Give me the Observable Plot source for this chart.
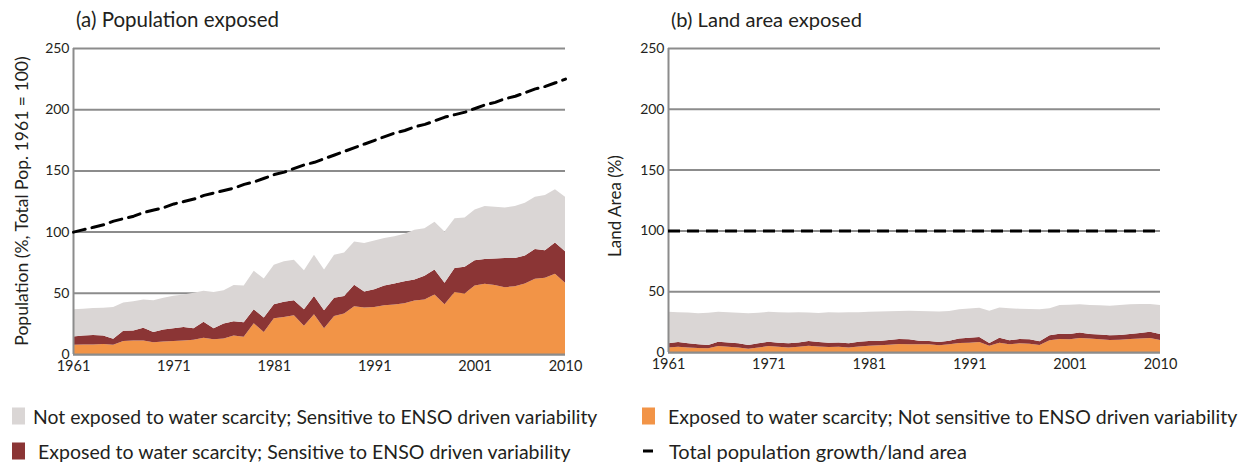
<!DOCTYPE html>
<html><head><meta charset="utf-8">
<script src="https://cdn.jsdelivr.net/npm/d3@7"></script>
<script src="https://cdn.jsdelivr.net/npm/@observablehq/plot@0.6"></script>
<style>
body{margin:0;background:#fff;font-family:Lato,sans-serif;}
#wrap{position:relative;width:1248px;height:465px;overflow:hidden;background:#fff;}
#wrap svg{position:absolute;}
</style></head><body><div id="wrap"></div>
<script>
// ---- data ----
const years = d3.range(1961, 2011);
const xTicks = [1961, 1971, 1981, 1991, 2001, 2010];
const yTicks = [0, 50, 100, 150, 200, 250];

// Panel (a): population exposed (% of total pop. 1961), band thickness per category
const popOrange = [7.6,7.7,7.8,8.1,7.6,10.6,11.0,11.1,9.5,10.2,10.6,11.0,11.6,13.3,12.0,12.7,15.2,14.0,25.2,18.0,
  29.2,30.3,31.7,23.0,32.5,21.0,31.0,33.0,39.0,37.9,38.4,39.8,40.4,41.4,43.8,44.6,48.7,40.6,50.6,49.5,
  56.0,57.4,56.3,54.6,55.4,57.6,61.4,62.2,65.5,58.2];
const popRed = [6.7,7.5,7.7,7.1,4.9,8.4,8.3,10.3,8.5,9.8,10.4,11.0,9.4,13.1,9.0,12.3,11.6,12.0,11.3,11.8,
  11.4,12.4,12.3,13.5,14.8,14.7,15.0,14.3,17.5,13.1,14.6,16.2,17.1,18.1,17.1,19.4,20.3,17.6,19.7,21.7,
  20.5,20.3,21.7,23.9,23.1,22.8,24.4,22.5,25.5,25.7];
const popGray = [22.2,21.8,22.0,22.5,26.0,23.0,23.7,23.1,26.0,26.0,26.5,26.7,29.0,25.3,29.6,27.0,29.5,30.0,31.5,31.9,
  32.4,33.0,33.0,31.9,33.7,33.3,35.0,35.7,35.5,39.6,39.8,38.7,38.8,38.7,40.6,38.8,39.0,41.8,40.7,40.3,
  41.5,43.3,42.4,41.1,42.5,43.2,42.7,45.3,43.5,44.6];
const popTotal = [100,102,104,106,109,111,113,116,118,120,123,125,127,130,132,134,136,139,141,144,
  147,149,152,155,157,160,163,166,169,172,175,178,181,183,186,188,191,194,196,198,
  201,204,206,209,211,214,217,219,222,225];

// Panel (b): land area exposed (%)
const landOrange = [3.8,4.4,3.8,3.3,3.0,4.9,4.4,3.8,2.7,3.8,4.9,4.4,3.8,4.4,5.2,4.6,4.1,4.4,3.6,4.6,
  5.2,5.5,6.0,6.6,6.3,6.3,6.3,5.5,6.3,7.4,7.7,8.2,5.2,7.7,6.3,7.1,6.8,5.8,9.6,10.7,
  10.4,11.5,11.0,10.4,9.9,10.1,10.7,11.0,11.5,9.9];
const landRed = [3.3,3.8,3.3,3.0,2.8,3.6,3.5,3.3,3.1,3.3,3.6,3.3,3.3,3.5,3.8,3.6,3.6,3.5,3.5,3.9,
  3.8,3.5,3.9,4.1,4.1,3.0,2.7,2.7,3.0,3.6,4.1,4.1,2.2,4.1,3.3,3.6,3.6,3.0,4.1,4.4,
  4.4,4.6,3.8,3.9,3.8,3.9,4.1,4.6,5.2,4.9];
const landGray = [25.9,24.5,25.3,25.5,26.5,24.5,24.8,25.2,26.0,25.2,24.5,25.0,25.3,24.8,23.4,23.9,25.0,24.5,25.6,24.2,
  24.0,24.3,23.6,23.1,23.6,24.5,24.5,25.1,24.5,24.1,23.9,24.1,26.6,24.8,26.3,24.9,25.0,26.3,22.2,23.5,
  24.1,23.1,23.8,24.1,24.4,24.6,24.4,23.9,22.8,23.8];
const landTotal = 100;

// stacking order bottom -> top
const seriesKeys = ["exposedNotSensitive", "exposedSensitive", "notExposedSensitive"];
const legendItems = [
  {key: "notExposedSensitive", label: "Not exposed to water scarcity; Sensitive to ENSO driven variability"},
  {key: "exposedNotSensitive", label: "Exposed to water scarcity; Not sensitive to ENSO driven variability"},
  {key: "exposedSensitive", label: "Exposed to water scarcity; Sensitive to ENSO driven variability"},
  {key: "total", label: "Total population growth/land area"}
];

// ---- style ----
const colors = {exposedNotSensitive: "#f29447", exposedSensitive: "#8b3535", notExposedSensitive: "#dad6d5"};
const gridColor = "#8c8c8c";
const textColor = "#231f20";
const FONT = "Lato";

function panel(orange, red, gray, totalMark, o) {
  const data = [];
  [[seriesKeys[0], orange], [seriesKeys[1], red], [seriesKeys[2], gray]].forEach(([s, arr]) =>
    arr.forEach((v, i) => data.push({year: years[i], value: v, series: s})));
  return Plot.plot({
    width: o.width, height: o.height,
    marginLeft: o.ml, marginRight: o.mr, marginTop: o.mt, marginBottom: o.mb,
    x: {domain: [1961, 2010]},
    y: {domain: [0, 250]},
    color: {type: "ordinal", domain: seriesKeys, range: seriesKeys.map(k => colors[k])},
    style: {fontFamily: FONT, color: textColor, background: "transparent", overflow: "visible"},
    marks: [
      Plot.gridY(yTicks, {stroke: gridColor, strokeOpacity: 1, strokeWidth: 2}),
      Plot.areaY(data, {x: "year", y: "value", fill: "series", order: null}),
      Plot.ruleY([0], {stroke: gridColor, strokeWidth: 2}),
      Plot.ruleX([1961], {stroke: gridColor, strokeWidth: 2}),
      totalMark,
      Plot.axisY(yTicks, {tickSize: 0, tickPadding: 4, fontSize: 14, label: null}),
      Plot.axisX(xTicks, {tickSize: 0, tickPadding: 6, fontSize: 14.5, label: null, tickFormat: d => String(d)})
    ]
  });
}

const wrap = document.getElementById("wrap");

const popLine = Plot.line(years.map((y, i) => ({year: y, v: popTotal[i]})),
  {x: "year", y: "v", stroke: "#000", strokeWidth: 3, strokeDasharray: "12,7"});
const a = panel(popOrange, popRed, popGray, popLine, {width: 600, height: 385, ml: 73, mr: 35, mt: 48, mb: 31});
a.style.left = "0px"; a.style.top = "0px";
wrap.appendChild(a);

const landLine = Plot.ruleY([landTotal], {stroke: "#000", strokeWidth: 3, strokeDasharray: "12,7"});
const b = panel(landOrange, landRed, landGray, landLine, {width: 600, height: 385, ml: 68, mr: 40, mt: 48, mb: 33});
b.style.left = "600px"; b.style.top = "0px";
wrap.appendChild(b);

// ---- overlay texts: titles, axis labels, legend ----
const ctx = document.createElement("canvas").getContext("2d");
function fitSize(txt, target) {
  ctx.font = `100px ${FONT}`;
  return 100 * target / ctx.measureText(txt).width;
}
const ov = d3.select(wrap).append("svg").attr("width", 1248).attr("height", 465)
  .style("left", "0px").style("top", "0px").style("font-family", FONT);

function label(txt, x, y, width, rotate, size) {
  const t = ov.append("text").text(txt).attr("fill", textColor)
    .attr("font-size", size || fitSize(txt, width)).attr("dominant-baseline", "central");
  if (rotate) {
    t.attr("text-anchor", "middle").attr("transform", `translate(${x},${y}) rotate(-90)`);
  } else {
    t.attr("x", x).attr("y", y);
  }
}
label("(a) Population exposed", 76, 19, 203);
label("(b) Land area exposed", 671, 19, 191);
label("Population (%, Total Pop. 1961 = 100)", 21, 201, 290, true);
label("Land Area (%)", 614, 206, 88, true, 17);

const legendPos = [
  {x: 12, tx: 33, y: 416, w: 566},
  {x: 642, tx: 668, y: 416, w: 571},
  {x: 12, tx: 38, y: 451, w: 534},
  {x: 642, tx: 669, y: 451, w: 298}
];
legendItems.forEach((it, i) => {
  const p = legendPos[i];
  if (it.key === "total") {
    ov.append("line").attr("x1", p.x + 1).attr("x2", p.x + 11).attr("y1", p.y).attr("y2", p.y)
      .attr("stroke", "#000").attr("stroke-width", 3);
  } else {
    ov.append("rect").attr("x", p.x).attr("y", p.y - 8.5).attr("width", 13).attr("height", 17)
      .attr("fill", colors[it.key]);
  }
  label(it.label, p.tx, p.y, p.w);
});
</script></body></html>
